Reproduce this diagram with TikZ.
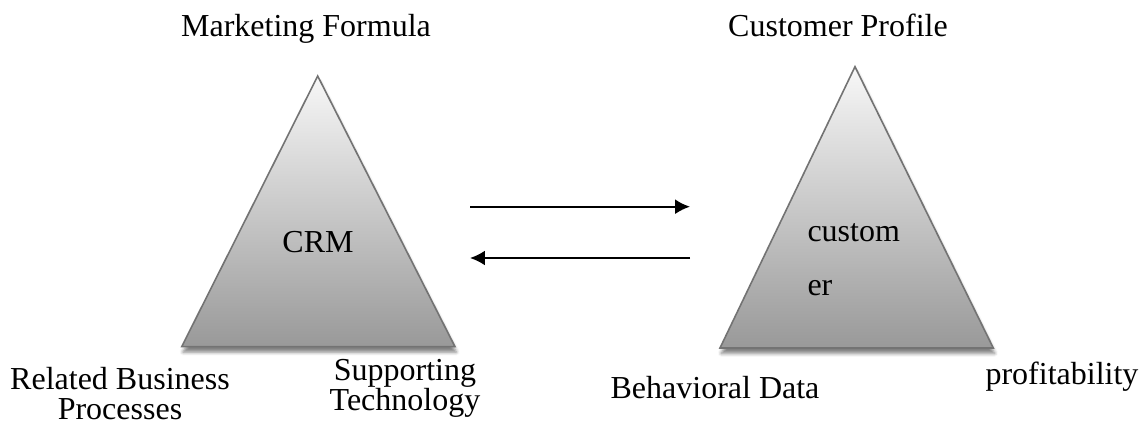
\documentclass[tikz,border=0pt]{standalone}
\usepackage{fontspec}
\setmainfont{Liberation Serif}
\usetikzlibrary{shadows.blur,arrows.meta}
\tikzset{
  pyramid/.style={draw=black!55,line width=0.6pt,line join=miter,
    top color=white!97!black,bottom color=black!40,
    blur shadow={shadow xshift=0.5pt,shadow yshift=-2pt,shadow blur radius=1.3pt,shadow opacity=50}},
  labeltext/.style={inner sep=0pt,anchor=base,align=center,
    font=\fontsize{12pt}{11.25pt}\selectfont},
}
\begin{document}
\begin{tikzpicture}[>={Latex[length=5.6pt,width=5.6pt]},x=0.375pt,y=0.375pt]
\useasboundingbox (0,0) rectangle (1141,425);
%%
\coordinate (crm_top) at (317.7,349);
\coordinate (crm_left) at (181.7,78.3);
\coordinate (crm_right) at (455,78.3);
\coordinate (cust_top) at (855,358.3);
\coordinate (cust_left) at (720,77);
\coordinate (cust_right) at (993.3,77);
\path [pyramid] (crm_top) -- (crm_right) -- (crm_left) -- cycle;
\path [pyramid] (cust_top) -- (cust_right) -- (cust_left) -- cycle;
%
\node (node_mf) at (306,388) [labeltext] {Marketing Formula};
\node (node_cp) at (838,388) [labeltext] {Customer Profile};
\node (node_crm) at (318,172) [labeltext] {CRM};
\node (node_custom) at (807,183) [labeltext,anchor=base west] {custom};
\node (node_er) at (807,129) [labeltext,anchor=base west] {er};
\node (node_rbp) at (120,5) [labeltext] {Related Business\\Processes};
\node (node_st) at (405,14) [labeltext] {Supporting\\Technology};
\node (node_bd) at (715,26) [labeltext] {Behavioral Data};
\node (node_pr) at (1062,40) [labeltext] {profitability};
%
\coordinate (arr_0_a) at (470,218.3);
\coordinate (arr_0_b) at (690,218.3);
\coordinate (arr_1_a) at (690,167);
\coordinate (arr_1_b) at (470,167);
\draw [black,->,line width=0.75pt] (arr_0_a) -- (arr_0_b);
\draw [black,->,line width=0.75pt] (arr_1_a) -- (arr_1_b);
%
\end{tikzpicture}
\end{document}
